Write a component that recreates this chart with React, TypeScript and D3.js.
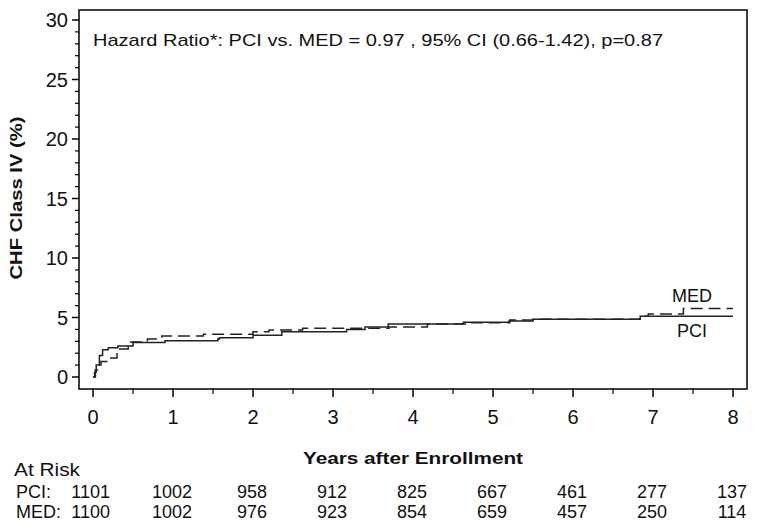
import React from "react";
import * as d3 from "d3";

const pciTimes = [0, 0.02, 0.04, 0.08, 0.12, 0.19, 0.31, 0.5, 0.9, 1.56, 1.58, 2.0, 2.36, 3.17, 3.4, 3.69, 4.63, 5.2, 5.5, 6.84, 8.0];
const pciRisk = [0, 0.4, 1.0, 1.8, 2.3, 2.45, 2.6, 2.9, 3.05, 3.2, 3.3, 3.5, 3.8, 4.0, 4.2, 4.45, 4.6, 4.7, 4.85, 5.1, 5.1];
const medTimes = [0, 0.03, 0.06, 0.1, 0.19, 0.3, 0.44, 0.68, 0.86, 1.38, 2.0, 2.2, 2.62, 3.7, 4.18, 4.68, 5.21, 5.5, 6.84, 6.94, 7.38, 8.0];
const medRisk = [0, 0.6, 1.0, 1.3, 1.6, 2.35, 2.95, 3.2, 3.45, 3.6, 3.8, 3.95, 4.1, 4.2, 4.45, 4.55, 4.8, 4.85, 5.1, 5.3, 5.75, 5.75];

const xTicks = [0, 1, 2, 3, 4, 5, 6, 7, 8];
const yTicks = [0, 5, 10, 15, 20, 25, 30];
const pciAtRisk = [1101, 1002, 958, 912, 825, 667, 461, 277, 137];
const medAtRisk = [1100, 1002, 976, 923, 854, 659, 457, 250, 114];

const hazardText = "Hazard Ratio*: PCI vs. MED = 0.97 , 95% CI (0.66-1.42), p=0.87";

export default function App() {
  const x = d3.scaleLinear().domain([0, 8]).range([93, 733]);
  const y = d3.scaleLinear().domain([0, 30]).range([377, 20]);
  const line = d3
    .line<[number, number]>()
    .x((d) => x(d[0]))
    .y((d) => y(d[1]))
    .curve(d3.curveStepAfter);
  const pci = pciTimes.map((t, i) => [t, pciRisk[i]] as [number, number]);
  const med = medTimes.map((t, i) => [t, medRisk[i]] as [number, number]);

  const frame = { left: 79, top: 10, right: 747, bottom: 389 };
  const font = "'Liberation Sans', Arial, sans-serif";
  const minorY = d3.range(0, 31).filter((v) => v % 5 !== 0);
  const minorX = d3.range(0.5, 8, 1);
  const ink = "#111";

  return (
    <svg
      width={759}
      height={531}
      style={{ position: "absolute", left: 0, top: 0, background: "#fff" }}
      fontFamily={font}
    >
      <rect x={0} y={0} width={759} height={531} fill="#fff" />
      <rect
        x={frame.left}
        y={frame.top}
        width={frame.right - frame.left}
        height={frame.bottom - frame.top}
        fill="none"
        stroke="#000"
        strokeWidth={1.5}
      />
      {yTicks.map((v) => (
        <g key={"y" + v}>
          <line x1={frame.left - 7} x2={frame.left} y1={y(v)} y2={y(v)} stroke="#000" strokeWidth={1.5} />
          <text x={68} y={y(v)} dy="0.36em" textAnchor="end" fontSize={20} fill={ink}>
            {v}
          </text>
        </g>
      ))}
      {minorY.map((v) => (
        <line key={"my" + v} x1={frame.left - 4} x2={frame.left} y1={y(v)} y2={y(v)} stroke="#000" strokeWidth={1.2} />
      ))}
      {xTicks.map((v) => (
        <g key={"x" + v}>
          <line x1={x(v)} x2={x(v)} y1={frame.bottom} y2={frame.bottom + 8} stroke="#000" strokeWidth={1.5} />
          <text x={x(v)} y={417} dy="0.36em" textAnchor="middle" fontSize={20} fill={ink}>
            {v}
          </text>
        </g>
      ))}
      {minorX.map((v) => (
        <line key={"mx" + v} x1={x(v)} x2={x(v)} y1={frame.bottom} y2={frame.bottom + 5} stroke="#000" strokeWidth={1.2} />
      ))}
      <text
        transform={`translate(16,198) rotate(-90)`}
        textAnchor="middle"
        dy="0.36em"
        fontSize={17}
        fontWeight="bold"
        fill={ink}
        textLength={163}
        lengthAdjust="spacingAndGlyphs"
      >
        CHF Class IV (%)
      </text>
      <text
        x={413}
        y={458}
        dy="0.36em"
        textAnchor="middle"
        fontSize={17}
        fontWeight="bold"
        fill={ink}
        textLength={220}
        lengthAdjust="spacingAndGlyphs"
      >
        Years after Enrollment
      </text>
      <path d={line(pci) || ""} fill="none" stroke="#222" strokeWidth={1.5} />
      <path d={line(med) || ""} fill="none" stroke="#222" strokeWidth={1.5} strokeDasharray="12 6" />
      <text x={692} y={296} dy="0.36em" textAnchor="middle" fontSize={18} fill={ink}>
        MED
      </text>
      <text x={692} y={331} dy="0.36em" textAnchor="middle" fontSize={18} fill={ink}>
        PCI
      </text>
      <text
        x={93}
        y={40}
        dy="0.36em"
        fontSize={17}
        fill={ink}
        textLength={570}
        lengthAdjust="spacingAndGlyphs"
      >
        {hazardText}
      </text>
      <text x={14} y={470} dy="0.36em" fontSize={18} fill={ink} textLength={66} lengthAdjust="spacingAndGlyphs">
        At Risk
      </text>
      <text x={16} y={492} dy="0.36em" fontSize={18} fill={ink}>
        PCI:
      </text>
      <text x={16} y={512} dy="0.36em" fontSize={18} fill={ink}>
        MED:
      </text>
      {pciAtRisk.map((v, i) => (
        <text
          key={"p" + i}
          x={i === 0 ? 110 : x(xTicks[i]) - 1}
          y={492}
          dy="0.36em"
          textAnchor={i === 0 ? "end" : "middle"}
          fontSize={18}
          fill={ink}
        >
          {v}
        </text>
      ))}
      {medAtRisk.map((v, i) => (
        <text
          key={"m" + i}
          x={i === 0 ? 110 : x(xTicks[i]) - 1}
          y={512}
          dy="0.36em"
          textAnchor={i === 0 ? "end" : "middle"}
          fontSize={18}
          fill={ink}
        >
          {v}
        </text>
      ))}
    </svg>
  );
}
